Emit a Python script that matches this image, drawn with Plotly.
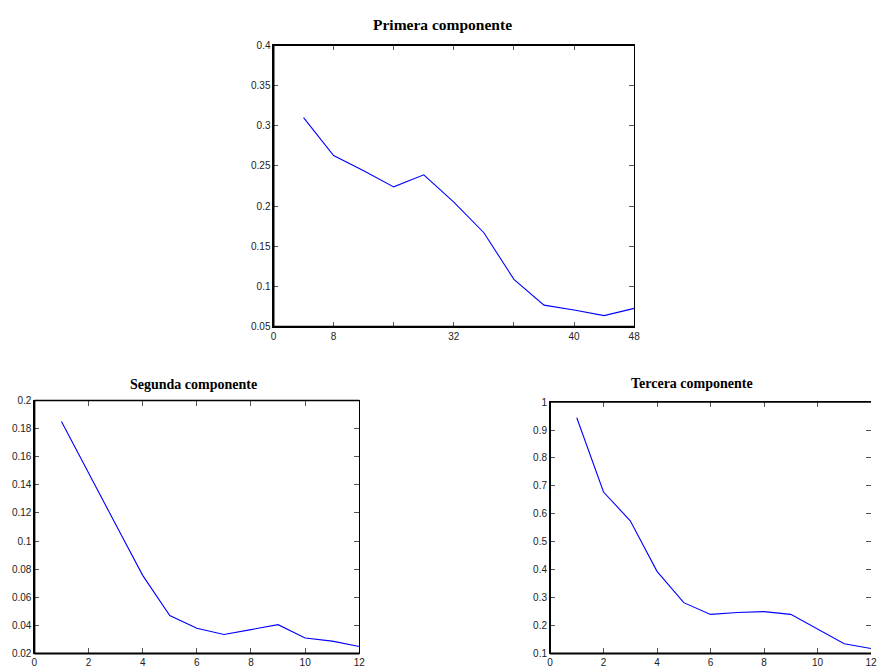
import plotly.graph_objects as go

W, H = 877, 670

x_vals = list(range(1, 13))
primera = [0.310, 0.263, 0.244, 0.224, 0.239, 0.205, 0.167, 0.109, 0.077, 0.071, 0.064, 0.073]
segunda = [0.185, 0.149, 0.112, 0.0756, 0.047, 0.038, 0.0335, 0.037, 0.0405, 0.031, 0.0288, 0.025]
tercera = [0.944, 0.678, 0.575, 0.394, 0.282, 0.240, 0.247, 0.250, 0.240, 0.186, 0.135, 0.118]

top_xticks = [0, 2, 4, 6, 8, 10, 12]
top_xtext = ["0", "8", "", "32", "", "40", "48"]
bot_xticks = [0, 2, 4, 6, 8, 10, 12]
y1_ticks = [0.05, 0.1, 0.15, 0.2, 0.25, 0.3, 0.35, 0.4]
y1_text = ["0.05", "0.1", "0.15", "0.2", "0.25", "0.3", "0.35", "0.4"]
y2_ticks = [0.02, 0.04, 0.06, 0.08, 0.1, 0.12, 0.14, 0.16, 0.18, 0.2]
y2_text = ["0.02", "0.04", "0.06", "0.08", "0.1", "0.12", "0.14", "0.16", "0.18", "0.2"]
y3_ticks = [0.1, 0.2, 0.3, 0.4, 0.5, 0.6, 0.7, 0.8, 0.9, 1.0]
y3_text = ["0.1", "0.2", "0.3", "0.4", "0.5", "0.6", "0.7", "0.8", "0.9", "1"]

titles = ["Primera componente", "Segunda componente", "Tercera componente"]

# pixel boxes: left, right, top, bottom
boxes = [(273.3, 637.7, 40, 326.7), (31.7, 360, 401.7, 659.3), (552.7, 877, 403.3, 659.3)]
title_pos = [(443.7, 19), (192.5, 385), (696.5, 384)]
title_sizes = [15.5, 14, 14]
tick_sizes = [10, 10, 10]

fig = go.Figure()
series = [primera, segunda, tercera]
for i, s in enumerate(series):
    sfx = "" if i == 0 else str(i + 1)
    fig.add_trace(go.Scatter(x=x_vals, y=s, mode="lines",
                             line=dict(color="#0000ff", width=1.1),
                             xaxis="x" + sfx, yaxis="y" + sfx, showlegend=False,
                             hoverinfo="skip"))
# invisible trace to carry the right-hand tick axis of the third panel
fig.add_trace(go.Scatter(x=[None], y=[None], xaxis="x3", yaxis="y4",
                         showlegend=False, hoverinfo="skip"))

def common(fs, mirror="ticks"):
    return dict(showline=True, linewidth=1, linecolor="black", mirror=mirror,
                ticks="inside", ticklen=5, tickcolor="#555555", tickwidth=1,
                showgrid=False, zeroline=False, fixedrange=True,
                tickfont=dict(family="Liberation Sans, Arial, sans-serif", size=fs, color="#222222"))

yranges = [(0.05, 0.4), (0.02, 0.2), (0.1, 1.0)]
yticks = [(y1_ticks, y1_text), (y2_ticks, y2_text), (y3_ticks, y3_text)]
layout = {}
for i, (l, r, t, b) in enumerate(boxes):
    sfx = "" if i == 0 else str(i + 1)
    xd = [l / W, min(r / W, 1.0)]
    yd = [1 - b / H, 1 - t / H]
    if i == 0:
        xt = dict(tickvals=top_xticks, ticktext=top_xtext)
    else:
        xt = dict(tickvals=bot_xticks, ticktext=[str(v) for v in bot_xticks])
    layout["xaxis" + sfx] = dict(domain=xd, range=[0, 12], anchor="y" + sfx,
                                 **xt, **common(tick_sizes[i]))
    ymirror = "ticks" if i < 2 else False
    layout["yaxis" + sfx] = dict(domain=yd, range=list(yranges[i]), anchor="x" + sfx,
                                 tickvals=yticks[i][0], ticktext=yticks[i][1],
                                 **common(tick_sizes[i], ymirror))
    if i == 2:
        layout["yaxis4"] = dict(overlaying="y3", side="right", anchor="x3",
                                range=list(yranges[i]), tickvals=yticks[i][0],
                                showticklabels=False, showline=False, ticks="inside",
                                ticklen=5, tickcolor="#555555", tickwidth=1,
                                showgrid=False, zeroline=False, fixedrange=True)

shapes = []
annotations = []
for i in range(3):
    sfx = "" if i == 0 else str(i + 1)
    xr = "x" + sfx + " domain"
    yr = "y" + sfx + " domain"
    shapes.append(dict(type="line", xref=xr, yref=yr, x0=0, x1=0, y0=0, y1=1,
                       line=dict(color="black", width=2)))
    shapes.append(dict(type="line", xref=xr, yref=yr, x0=0, x1=1, y0=0, y1=0,
                       line=dict(color="black", width=2)))
    shapes.append(dict(type="line", xref=xr, yref=yr, x0=0, x1=1, y0=1, y1=1,
                       line=dict(color="black", width=1.5)))
    tx, ty = title_pos[i]
    annotations.append(dict(text="<b>" + titles[i] + "</b>", x=tx / W, y=1 - ty / H,
                            xref="paper", yref="paper", xanchor="center", yanchor="middle",
                            showarrow=False,
                            font=dict(family="Liberation Serif, Times New Roman, serif",
                                      size=title_sizes[i], color="black")))

fig.update_layout(width=W, height=H, margin=dict(l=0, r=0, t=0, b=0),
                  paper_bgcolor="white", plot_bgcolor="white",
                  shapes=shapes, annotations=annotations, **layout)

fig.write_html("out.html", config={"displayModeBar": False})
